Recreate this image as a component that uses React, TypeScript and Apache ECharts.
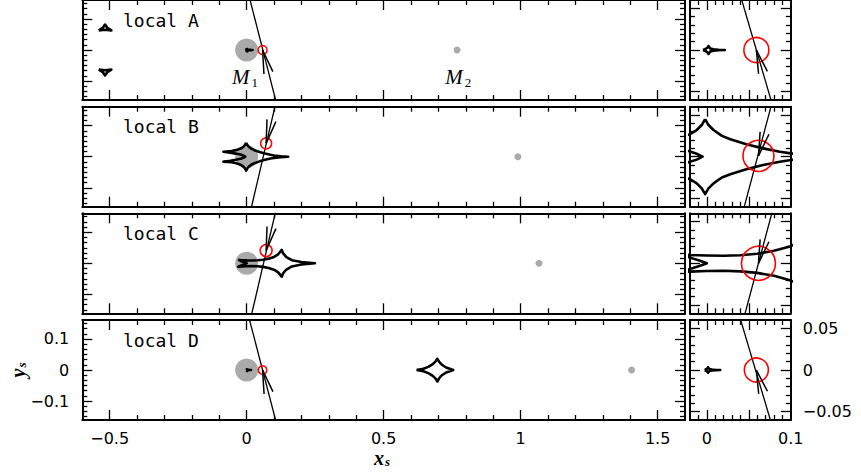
import React, { useEffect, useRef } from 'react';
import * as echarts from 'echarts';

// ---------------- data ----------------
const panelNames = ['local A', 'local B', 'local C', 'local D'];

// lens positions (x_s, y_s = 0)
const m1X = [0, 0, 0, 0];
const m2X = [0.768, 0.99, 1.067, 1.405];
const mLabelText = ['{m|M}{s|1}', '{m|M}{s|2}'];
const mLabelPos = [[-0.006, -0.09], [0.772, -0.09]];

// caustics
const causACen = [[-0.0045, 0], [-0.001, 0.0015], [0.0015, 0.0035], [0.002, 0.0048], [0.004, 0.0018], [0.008, 0.0008], [0.014, 0.0003], [0.0215, 0], [0.014, -0.0003], [0.008, -0.0008], [0.004, -0.0018], [0.002, -0.0048], [0.0015, -0.0035], [-0.001, -0.0015], [-0.0045, 0]];
const causAPlanTop = [[-0.540, 0.063], [-0.525, 0.0716], [-0.517, 0.082], [-0.509, 0.0716], [-0.494, 0.063], [-0.517, 0.065], [-0.540, 0.063]];
const causAPlanBot = [[-0.540, -0.063], [-0.525, -0.0716], [-0.517, -0.082], [-0.509, -0.0716], [-0.494, -0.063], [-0.517, -0.065], [-0.540, -0.063]];
const causB = [
  [-0.002, 0.045], [0.002, 0.038], [0.008, 0.032], [0.018, 0.025], [0.028, 0.021], [0.047, 0.015], [0.067, 0.010], [0.087, 0.006], [0.100, 0.004], [0.125, 0.0015], [0.152, 0],
  [0.125, -0.0015], [0.100, -0.004], [0.087, -0.006], [0.067, -0.010], [0.047, -0.015], [0.028, -0.021], [0.018, -0.025], [0.008, -0.032], [0.002, -0.038], [-0.002, -0.045],
  [-0.006, -0.038], [-0.012, -0.032], [-0.020, -0.027], [-0.035, -0.022], [-0.055, -0.018], [-0.085, -0.016],
  [-0.060, -0.013], [-0.040, -0.010], [-0.022, -0.0068], [-0.012, -0.0035], [-0.005, 0],
  [-0.012, 0.0035], [-0.022, 0.0068], [-0.040, 0.010], [-0.060, 0.013], [-0.085, 0.016],
  [-0.055, 0.018], [-0.035, 0.022], [-0.020, 0.027], [-0.012, 0.032], [-0.006, 0.038], [-0.002, 0.045],
];
const causC = [
  [-0.031, 0.011], [-0.020, 0.010], [0.000, 0.0093], [0.020, 0.0090], [0.040, 0.0097], [0.060, 0.0115], [0.080, 0.015], [0.100, 0.0205], [0.115, 0.029], [0.128, 0.043],
  [0.133, 0.032], [0.145, 0.020], [0.165, 0.010], [0.200, 0.004], [0.249, 0],
  [0.200, -0.004], [0.165, -0.010], [0.145, -0.020], [0.133, -0.032], [0.128, -0.043],
  [0.115, -0.029], [0.100, -0.0205], [0.080, -0.015], [0.060, -0.0115], [0.040, -0.0097], [0.020, -0.0090], [0.000, -0.0093], [-0.020, -0.010], [-0.031, -0.011],
  [-0.020, -0.0068], [-0.008, -0.003], [0.000, 0], [-0.008, 0.003], [-0.020, 0.0068], [-0.031, 0.011],
];
const causDCen = [[-0.0025, 0], [-0.0005, 0.001], [0.001, 0.0023], [0.0015, 0.0033], [0.003, 0.0013], [0.006, 0.0005], [0.010, 0.0002], [0.016, 0], [0.010, -0.0002], [0.006, -0.0005], [0.003, -0.0013], [0.0015, -0.0033], [0.001, -0.0023], [-0.0005, -0.001], [-0.0025, 0]];
const causDPlan = [[0.620, 0], [0.645, 0.004], [0.663, 0.010], [0.678, 0.018], [0.689, 0.027], [0.696, 0.036], [0.703, 0.026], [0.714, 0.016], [0.728, 0.008], [0.754, 0], [0.728, -0.008], [0.714, -0.016], [0.703, -0.026], [0.696, -0.037], [0.689, -0.027], [0.678, -0.018], [0.663, -0.010], [0.645, -0.004], [0.620, 0]];

const mainCaustics = [[causACen, causAPlanTop, causAPlanBot], [causB], [causC], [causDCen, causDPlan]];
const zoomCaustics = [[causACen], [causB], [causC], [causDCen]];

// source trajectories (shared by main and zoom panel)
const trajA = [[0.001, 0.2], [0.117, -0.2]];
const trajB = [[0.0075, -0.2], [0.1135, 0.2]];
const trajC = [[0.0085, -0.2], [0.1145, 0.2]];
const trajD = [[-0.001, 0.2], [0.117, -0.2]];
const trajectories = [trajA, trajB, trajC, trajD];
const motionDir = [[-0.29, 1], [-0.265, -1], [-0.265, -1], [-0.295, 1]];

// source positions
const mainSource = [[0.058, 0], [0.071, 0.043], [0.071, 0.041], [0.058, 0]];
const zoomSource = [[0.059, 0], [0.0615, 0.001], [0.0615, 0], [0.059, 0]];

// axes ranges / ticks
const MAIN_X = [-0.6, 1.6];
const MAIN_Y = [-0.161, 0.161];
const ZOOM_X = [-0.02, 0.1];
const ZOOM_Y = [-0.06, 0.06];
const mainXMajor = [-0.5, 0, 0.5, 1, 1.5];
const mainXMinor = [-0.4, -0.3, -0.2, -0.1, 0.1, 0.2, 0.3, 0.4, 0.6, 0.7, 0.8, 0.9, 1.1, 1.2, 1.3, 1.4];
const mainYMajor = [-0.1, 0, 0.1];
const mainYMinor = [-0.15, -0.1333, -0.1167, -0.0833, -0.0667, -0.05, -0.0333, -0.0167, 0.0167, 0.0333, 0.05, 0.0667, 0.0833, 0.1167, 0.1333, 0.15];
const zoomXMajor = [0, 0.05];
const zoomXMinor = [-0.01, 0.01, 0.02, 0.03, 0.04, 0.06, 0.07, 0.08, 0.09];
const zoomYMajor = [-0.05, 0, 0.05];
const zoomYMinor = [-0.04, -0.03, -0.02, -0.01, 0.01, 0.02, 0.03, 0.04];
const mainXLabels = [-0.5, 0, 0.5, 1, 1.5];
const mainYLabels = [-0.1, 0, 0.1];
const zoomXLabels = [0, 0.1];
const zoomYLabels = [-0.05, 0, 0.05];

// ---------------- layout / style ----------------
const ROW_TOP = [0, 106.7, 213.3, 320];
const ROW_H = 100;
const MAIN_LEFT = 82.3;
const MAIN_W = 602.7;
const ZOOM_LEFT = 690;
const ZOOM_W = 100.8;
const MAJOR_LEN = 10;
const MINOR_LEN = 5;
const mainCircleSize = [9, 11, 12, 8.5];
const zoomCircleSize = [25, 31, 34, 24];
const ARROW_LEN = 24;
const ARROW_HALF = (11 * Math.PI) / 180;
const GRAY = '#aaaaaa';
const TICK_FONT = 'DejaVu Sans';

const fmt = (v: number) => (Math.abs(v) < 1e-9 ? '0' : String(v).replace('-', '\u2212'));

function makeAxis(gridIndex: number, position: string, range: number[], ticks: number[], len: number, line: boolean, labels: number[] | null) {
  const margin = position === 'bottom' ? 10 : position === 'left' ? 13 : 12;
  return {
    type: 'value',
    gridIndex,
    position,
    min: range[0],
    max: range[1],
    axisLine: { show: line, onZero: false, lineStyle: { color: '#000', width: 2 } },
    axisTick: { show: true, inside: true, length: len, customValues: ticks, lineStyle: { color: '#000', width: 1.3 } },
    axisLabel: labels
      ? { show: true, customValues: labels, formatter: fmt, margin, color: '#000', fontFamily: TICK_FONT, fontSize: 16 }
      : { show: false },
    splitLine: { show: false },
    axisPointer: { show: false },
  };
}

function renderArrow(_params: any, api: any) {
  const x = api.value(0), y = api.value(1), dx = api.value(2), dy = api.value(3);
  const p0 = api.coord([x, y]);
  const p1 = api.coord([x + dx * 0.01, y + dy * 0.01]);
  let vx = p1[0] - p0[0], vy = p1[1] - p0[1];
  const n = Math.hypot(vx, vy) || 1;
  vx /= n; vy /= n;
  const bx = -vx, by = -vy;
  const arm = (s: number) => {
    const a = s * ARROW_HALF;
    const c = Math.cos(a), sn = Math.sin(a);
    return [p0[0] + ARROW_LEN * (bx * c - by * sn), p0[1] + ARROW_LEN * (bx * sn + by * c)];
  };
  const a1 = arm(1), a2 = arm(-1);
  return {
    type: 'group',
    children: [
      { type: 'line', shape: { x1: p0[0], y1: p0[1], x2: a1[0], y2: a1[1] }, style: { stroke: '#000', lineWidth: 1.5 } },
      { type: 'line', shape: { x1: p0[0], y1: p0[1], x2: a2[0], y2: a2[1] }, style: { stroke: '#000', lineWidth: 1.5 } },
    ],
  };
}

const subRich = {
  m: { fontFamily: 'Liberation Serif', fontStyle: 'italic', fontSize: 21, fill: '#000', verticalAlign: 'top', lineHeight: 22 },
  s: { fontFamily: 'Liberation Serif', fontSize: 13, fill: '#000', verticalAlign: 'bottom', lineHeight: 14, padding: [12, 0, 0, 2] },
};

function renderLensLabel(params: any, api: any) {
  const p = api.coord([api.value(0), api.value(1)]);
  return {
    type: 'text',
    x: p[0],
    y: p[1],
    style: { text: mLabelText[params.dataIndex], align: 'center', verticalAlign: 'middle', fill: '#000', rich: subRich },
  };
}

function buildOption() {
  const grid: any[] = [];
  const xAxis: any[] = [];
  const yAxis: any[] = [];
  const series: any[] = [];
  const graphic: any[] = [];

  // grids 0..3 main, 4..7 zoom
  for (let k = 0; k < 8; k++) {
    const r = k % 4;
    const isMain = k < 4;
    grid.push({ left: isMain ? MAIN_LEFT : ZOOM_LEFT, top: ROW_TOP[r], width: isMain ? MAIN_W : ZOOM_W, height: ROW_H });
    const xr = isMain ? MAIN_X : ZOOM_X;
    const yr = isMain ? MAIN_Y : ZOOM_Y;
    const xMaj = isMain ? mainXMajor : zoomXMajor;
    const xMin = isMain ? mainXMinor : zoomXMinor;
    const yMaj = isMain ? mainYMajor : zoomYMajor;
    const yMin = isMain ? mainYMinor : zoomYMinor;
    const last = r === 3;
    xAxis.push(makeAxis(k, 'bottom', xr, xMaj, MAJOR_LEN, true, last ? (isMain ? mainXLabels : zoomXLabels) : null));
    xAxis.push(makeAxis(k, 'bottom', xr, xMin, MINOR_LEN, false, null));
    xAxis.push(makeAxis(k, 'top', xr, xMaj, MAJOR_LEN, true, null));
    xAxis.push(makeAxis(k, 'top', xr, xMin, MINOR_LEN, false, null));
    yAxis.push(makeAxis(k, 'left', yr, yMaj, MAJOR_LEN, true, last && isMain ? mainYLabels : null));
    yAxis.push(makeAxis(k, 'left', yr, yMin, MINOR_LEN, false, null));
    yAxis.push(makeAxis(k, 'right', yr, yMaj, MAJOR_LEN, true, last && !isMain ? zoomYLabels : null));
    yAxis.push(makeAxis(k, 'right', yr, yMin, MINOR_LEN, false, null));
  }

  const lineSeries = (k: number, data: number[][], width: number, z: number) => ({
    type: 'line',
    xAxisIndex: 4 * k,
    yAxisIndex: 4 * k,
    data,
    symbol: 'none',
    smooth: false,
    clip: true,
    silent: true,
    lineStyle: { color: '#000', width, join: 'round' },
    z,
  });

  for (let r = 0; r < 4; r++) {
    const km = r;
    const kz = 4 + r;
    // main panel
    series.push({
      type: 'scatter', xAxisIndex: 4 * km, yAxisIndex: 4 * km, silent: true, z: 1,
      data: [[m1X[r], 0]], symbol: 'circle', symbolSize: 23, itemStyle: { color: GRAY, opacity: 1 },
    });
    series.push({
      type: 'scatter', xAxisIndex: 4 * km, yAxisIndex: 4 * km, silent: true, z: 1,
      data: [[m2X[r], 0]], symbol: 'circle', symbolSize: 7, itemStyle: { color: GRAY, opacity: 1 },
    });
    mainCaustics[r].forEach((c) => series.push(lineSeries(km, c, 2.6, 2)));
    series.push(lineSeries(km, trajectories[r], 1.3, 3));
    series.push({
      type: 'scatter', xAxisIndex: 4 * km, yAxisIndex: 4 * km, silent: true, z: 4,
      data: [mainSource[r]], symbol: 'circle', symbolSize: mainCircleSize[r],
      itemStyle: { color: 'rgba(0,0,0,0)', borderColor: '#ff0000', borderWidth: 1.5, opacity: 1 },
    });
    series.push({
      type: 'custom', xAxisIndex: 4 * km, yAxisIndex: 4 * km, silent: true, z: 5,
      data: [[mainSource[r][0], mainSource[r][1], motionDir[r][0], motionDir[r][1]]],
      renderItem: renderArrow,
    });
    // zoom panel
    zoomCaustics[r].forEach((c) => series.push(lineSeries(kz, c, 2.6, 2)));
    series.push(lineSeries(kz, trajectories[r], 1.3, 3));
    series.push({
      type: 'scatter', xAxisIndex: 4 * kz, yAxisIndex: 4 * kz, silent: true, z: 4,
      data: [zoomSource[r]], symbol: 'circle', symbolSize: zoomCircleSize[r],
      itemStyle: { color: 'rgba(0,0,0,0)', borderColor: '#ff0000', borderWidth: 1.6, opacity: 1 },
    });
    series.push({
      type: 'custom', xAxisIndex: 4 * kz, yAxisIndex: 4 * kz, silent: true, z: 5,
      data: [[zoomSource[r][0], zoomSource[r][1], motionDir[r][0], motionDir[r][1]]],
      renderItem: renderArrow,
    });

    graphic.push({
      type: 'text', x: 123, y: ROW_TOP[r] + 20, silent: true,
      style: { text: panelNames[r], fill: '#000', fontFamily: 'DejaVu Sans Mono', fontSize: 18, align: 'left', verticalAlign: 'middle' },
    });
  }

  // lens labels in panel A
  series.push({
    type: 'custom', xAxisIndex: 0, yAxisIndex: 0, silent: true, z: 6,
    data: mLabelPos,
    renderItem: renderLensLabel,
  });

  // axis titles
  const titleRich = {
    a: { fontFamily: 'Liberation Serif', fontStyle: 'italic', fontWeight: 'bold', fontSize: 20, fill: '#000', verticalAlign: 'top', lineHeight: 20 },
    b: { fontFamily: 'Liberation Serif', fontStyle: 'italic', fontWeight: 'bold', fontSize: 13, fill: '#000', verticalAlign: 'bottom', lineHeight: 13, padding: [10, 0, 0, 1] },
  };
  graphic.push({
    type: 'text', x: 382, y: 458, silent: true,
    style: { text: '{a|x}{b|s}', align: 'center', verticalAlign: 'middle', rich: titleRich },
  });
  graphic.push({
    type: 'text', x: 18, y: 370, rotation: Math.PI / 2, silent: true,
    style: { text: '{a|y}{b|s}', align: 'center', verticalAlign: 'middle', rich: titleRich },
  });

  return {
    animation: false,
    backgroundColor: '#ffffff',
    grid,
    xAxis,
    yAxis,
    series,
    graphic,
  };
}

export default function App() {
  const ref = useRef<HTMLDivElement>(null);
  useEffect(() => {
    if (!ref.current) return;
    const chart = echarts.init(ref.current, undefined, { renderer: 'svg' });
    chart.setOption(buildOption() as any);
    return () => chart.dispose();
  }, []);
  return <div ref={ref} style={{ position: 'absolute', left: 0, top: 0, width: 861, height: 473, background: '#fff' }} />;
}
